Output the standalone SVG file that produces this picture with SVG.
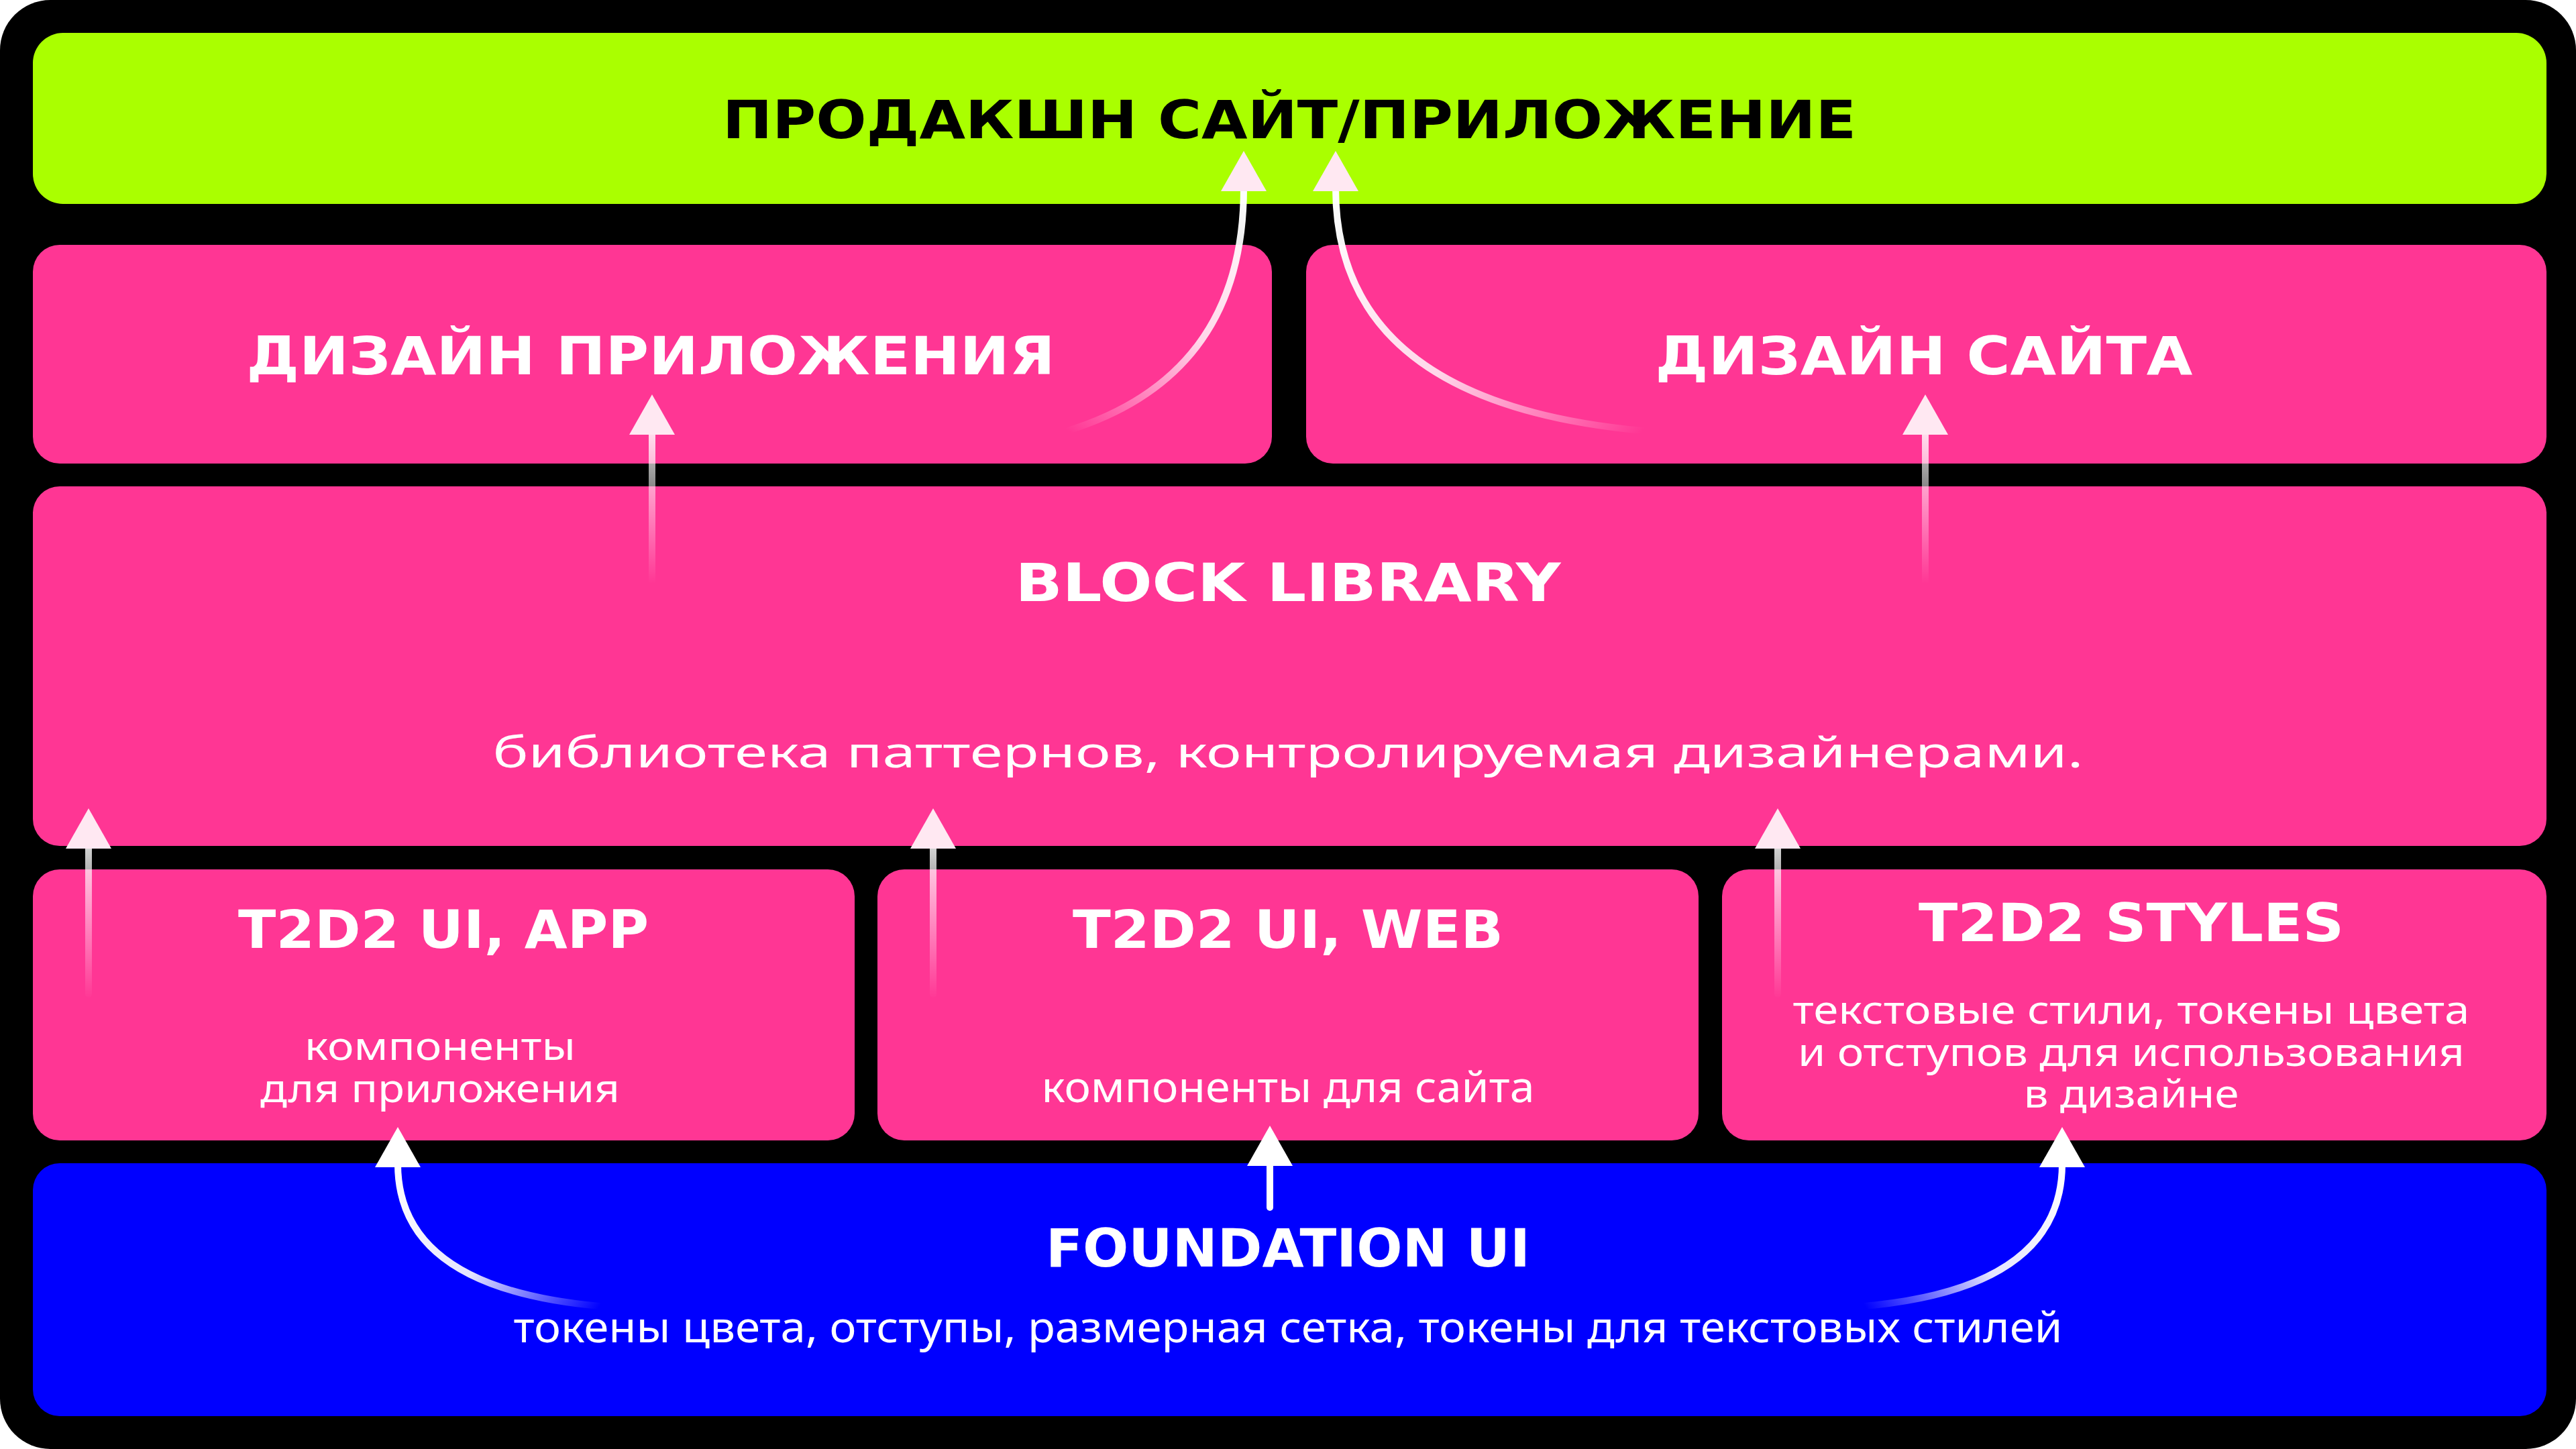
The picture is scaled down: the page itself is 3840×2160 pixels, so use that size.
<svg xmlns="http://www.w3.org/2000/svg" width="3840" height="2160" viewBox="0 0 3840 2160">
<defs>
<style>
.t{font-family:"DejaVu Sans","Liberation Sans",sans-serif;font-weight:bold;font-size:78px;text-anchor:middle}
.b{font-family:"Noto Sans","Liberation Sans",sans-serif;font-size:64px;fill:#fff;text-anchor:middle}
.s{font-size:58px}
.pink{fill:#FF3694}
.ln{fill:none;stroke-width:10;stroke-linecap:round}
.hd{fill:#FFE8F2}
</style>
<linearGradient id="gv1" gradientUnits="userSpaceOnUse" x1="0" y1="870" x2="0" y2="600"><stop offset="0" stop-color="#fff" stop-opacity="0"/><stop offset="1" stop-color="#fff"/></linearGradient>
<linearGradient id="gv2" gradientUnits="userSpaceOnUse" x1="0" y1="1490" x2="0" y2="1215"><stop offset="0" stop-color="#fff" stop-opacity="0"/><stop offset="1" stop-color="#fff"/></linearGradient>
<linearGradient id="gc1" gradientUnits="userSpaceOnUse" x1="1592" y1="642" x2="1854" y2="280"><stop offset="0" stop-color="#fff" stop-opacity="0"/><stop offset="0.5" stop-color="#fff" stop-opacity="0.8"/><stop offset="1" stop-color="#fff"/></linearGradient>
<linearGradient id="gc2" gradientUnits="userSpaceOnUse" x1="2449" y1="642" x2="1991" y2="280"><stop offset="0" stop-color="#fff" stop-opacity="0"/><stop offset="0.5" stop-color="#fff" stop-opacity="0.8"/><stop offset="1" stop-color="#fff"/></linearGradient>
<linearGradient id="gc3" gradientUnits="userSpaceOnUse" x1="894" y1="1947" x2="593" y2="1735"><stop offset="0" stop-color="#fff" stop-opacity="0"/><stop offset="0.5" stop-color="#fff" stop-opacity="0.9"/><stop offset="1" stop-color="#fff"/></linearGradient>
<linearGradient id="gc4" gradientUnits="userSpaceOnUse" x1="2780" y1="1947" x2="3074" y2="1735"><stop offset="0" stop-color="#fff" stop-opacity="0"/><stop offset="0.5" stop-color="#fff" stop-opacity="0.9"/><stop offset="1" stop-color="#fff"/></linearGradient>
</defs>
<rect x="0" y="0" width="3840" height="2160" rx="75" fill="#000"/>
<g id="prod"><rect x="49" y="49" width="3747" height="255" rx="45" fill="#AAFF00"/>
<text class="t" x="1922" y="206" fill="#000" textLength="1690" lengthAdjust="spacingAndGlyphs">ПРОДАКШН САЙТ/ПРИЛОЖЕНИЕ</text></g>
<g id="design-app"><rect class="pink" x="49" y="365" width="1847" height="326" rx="40"/>
<text class="t" x="970" y="558" fill="#fff" textLength="1205" lengthAdjust="spacingAndGlyphs">ДИЗАЙН ПРИЛОЖЕНИЯ</text></g>
<g id="design-site"><rect class="pink" x="1947" y="365" width="1849" height="326" rx="40"/>
<text class="t" x="2868" y="558" fill="#fff" textLength="801" lengthAdjust="spacingAndGlyphs">ДИЗАЙН САЙТА</text></g>
<g id="block-library"><rect class="pink" x="49" y="725" width="3747" height="536" rx="40"/>
<text class="t" x="1920" y="896" fill="#fff" textLength="813" lengthAdjust="spacingAndGlyphs">BLOCK LIBRARY</text>
<text class="b" x="1920" y="1144" font-size="74" textLength="2371" lengthAdjust="spacingAndGlyphs">библиотека паттернов, контролируемая дизайнерами.</text></g>
<g id="t2d2-app"><rect class="pink" x="49" y="1296" width="1225" height="404" rx="40"/>
<text class="t" x="661" y="1413" fill="#fff" textLength="612" lengthAdjust="spacingAndGlyphs">T2D2 UI, APP</text>
<text class="b s" x="656" y="1580" textLength="404" lengthAdjust="spacingAndGlyphs">компоненты</text>
<text class="b s" x="656" y="1643" textLength="536" lengthAdjust="spacingAndGlyphs">для приложения</text></g>
<g id="t2d2-web"><rect class="pink" x="1308" y="1296" width="1224" height="404" rx="40"/>
<text class="t" x="1920" y="1413" fill="#fff" textLength="642" lengthAdjust="spacingAndGlyphs">T2D2 UI, WEB</text>
<text class="b" x="1920" y="1643" textLength="735" lengthAdjust="spacingAndGlyphs">компоненты для сайта</text></g>
<g id="t2d2-styles"><rect class="pink" x="2567" y="1296" width="1229" height="404" rx="40"/>
<text class="t" x="3177" y="1403" fill="#fff" textLength="634" lengthAdjust="spacingAndGlyphs">T2D2 STYLES</text>
<text class="b s" x="3177" y="1526" textLength="1009" lengthAdjust="spacingAndGlyphs">текстовые стили, токены цвета</text>
<text class="b s" x="3177" y="1589" textLength="994" lengthAdjust="spacingAndGlyphs">и отступов для использования</text>
<text class="b s" x="3177" y="1651" textLength="321" lengthAdjust="spacingAndGlyphs">в дизайне</text></g>
<g id="foundation"><rect x="49" y="1734" width="3747" height="377" rx="40" fill="#0000FF"/>
<text class="t" x="1920" y="1888" fill="#fff" textLength="722" lengthAdjust="spacingAndGlyphs">FOUNDATION UI</text>
<text class="b" x="1920" y="2001" textLength="2309" lengthAdjust="spacingAndGlyphs">токены цвета, отступы, размерная сетка, токены для текстовых стилей</text></g>
<g id="connectors">
<path class="ln" stroke="url(#gv1)" d="M972 870V640"/><polygon class="hd" points="972,588 938,648 1006,648"/>
<path class="ln" stroke="url(#gv1)" d="M2870 870V640"/><polygon class="hd" points="2870,588 2836,648 2904,648"/>
<path class="ln" stroke="url(#gv2)" d="M132 1482V1258"/><polygon class="hd" points="132,1205 98,1265 166,1265"/>
<path class="ln" stroke="url(#gv2)" d="M1391 1482V1258"/><polygon class="hd" points="1391,1205 1357,1265 1425,1265"/>
<path class="ln" stroke="url(#gv2)" d="M2650 1482V1258"/><polygon class="hd" points="2650,1205 2616,1265 2684,1265"/>
<path class="ln" stroke="#fff" d="M1893 1800V1730"/><polygon fill="#fff" points="1893,1678 1859,1738 1927,1738"/>
<path class="ln" stroke="url(#gc1)" d="M1592 642Q1854 560 1854 280"/><polygon class="hd" points="1854,225 1820,285 1888,285"/>
<path class="ln" stroke="url(#gc2)" d="M2449 642Q1991 600 1991 280"/><polygon class="hd" points="1991,225 1957,285 2025,285"/>
<path class="ln" stroke="url(#gc3)" d="M894 1947Q593 1920 593 1735"/><polygon fill="#fff" points="593,1680 559,1740 627,1740"/>
<path class="ln" stroke="url(#gc4)" d="M2780 1947Q3074 1920 3074 1735"/><polygon fill="#fff" points="3074,1680 3040,1740 3108,1740"/>
</g>
</svg>
